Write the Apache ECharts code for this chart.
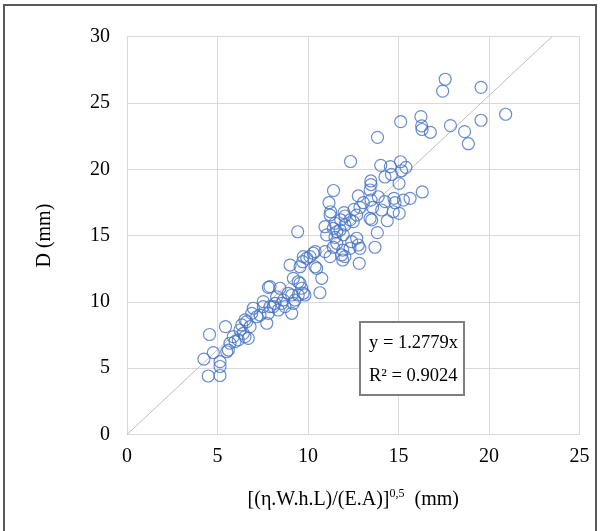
<!DOCTYPE html>
<html>
<head>
<meta charset="utf-8">
<script src="https://cdn.jsdelivr.net/npm/echarts@6/dist/echarts.min.js"></script>
<style>html,body{margin:0;padding:0;background:#fff}#c{width:605px;height:531px}</style>
</head>
<body>
<div id="c"></div>
<script>
// x values: [(η.W.h.L)/(E.A)]^0,5 (mm)
const xVals = [17.58,17.44,19.56,20.92,15.12,16.24,16.28,16.30,16.76,17.87,19.56,18.65,18.86,13.84,12.35,14.02,14.55,15.11,15.41,15.17,
14.25,14.61,13.47,13.48,15.03,11.41,16.31,13.43,12.78,11.16,13.06,13.48,13.88,14.25,14.81,15.27,15.64,11.25,11.99,12.87,
14.07,15.04,13.52,14.38,12.32,11.81,10.94,11.40,11.59,11.03,12.04,12.50,11.49,11.95,12.69,13.83,13.70,12.78,12.87,12.32,
11.92,11.40,10.94,10.29,9.93,11.86,11.92,12.83,11.22,10.39,9.43,9.71,10.76,10.66,9.83,11.22,11.49,11.77,11.59,12.69,
12.41,12.04,10.39,10.11,10.48,9.74,9.56,9.01,9.19,9.46,9.74,8.91,8.45,8.27,9.28,8.73,8.08,9.10,7.81,7.53,
8.64,6.98,6.89,7.72,8.36,7.35,6.52,6.80,6.24,5.44,4.56,5.87,6.52,5.69,4.25,4.77,4.49,5.14,5.14,5.14,
5.51,5.97,6.15,6.43,6.70,7.81,7.90,8.55,9.19,9.65,9.46,5.60,6.61,6.34,7.17,7.53,8.18,7.90,9.56,9.10,
13.43,14.75,12.54,12.04,14.71,13.57];
// y values: D (mm)
const yVals = [26.79,25.90,26.18,24.15,23.59,23.97,23.27,23.00,22.79,23.29,23.70,22.84,21.93,22.41,20.59,20.30,20.20,20.57,20.15,19.89,
19.42,19.61,19.12,18.85,18.94,18.40,18.29,18.44,17.99,17.48,17.48,17.68,17.93,17.56,17.48,17.68,17.81,16.80,16.73,17.13,
16.93,16.68,16.18,16.12,16.18,16.18,15.67,15.55,15.29,15.05,15.80,16.05,14.87,15.05,14.80,15.22,14.12,14.29,14.04,14.04,
13.91,14.12,13.79,13.67,13.29,13.54,13.16,12.91,13.41,12.65,15.29,13.03,11.78,10.69,10.52,16.55,15.93,15.42,14.42,16.55,
14.54,13.41,13.79,13.41,12.53,13.41,12.65,12.78,11.78,11.52,10.65,10.65,11.03,10.39,10.14,9.64,9.64,9.14,11.10,10.02,
10.14,9.52,9.14,8.39,9.39,9.01,8.64,8.13,7.88,8.13,7.54,7.38,7.38,6.88,5.69,6.18,4.41,4.45,5.13,5.49,
6.24,7.00,7.13,7.63,7.25,9.14,9.64,9.89,9.89,11.03,10.52,6.37,8.51,8.26,8.88,9.64,9.89,11.15,11.40,10.52,
16.30,17.81,16.98,16.48,16.80,17.13];
const xTicks = [0,5,10,15,20,25];
const yTicks = [0,5,10,15,20,25,30];
const slope = 1.2779;
const r2 = 0.9024;

const pts = xVals.map((x,i)=>[x,yVals[i]]);
const yMax = yTicks[yTicks.length-1];
const trend = [[0,0],[yMax/slope, yMax]];
const F = 'Liberation Serif, Times New Roman, serif';

const chart = echarts.init(document.getElementById('c'), null, {renderer:'canvas'});
chart.setOption({
  animation:false,
  backgroundColor:'#fff',
  grid:{left:127,right:25.5,top:36.7,bottom:96.5},
  xAxis:{type:'value',min:xTicks[0],max:xTicks[xTicks.length-1],interval:5,
    axisLine:{show:false},axisTick:{show:false},
    splitLine:{lineStyle:{color:'#d9d9d9',width:1}},
    axisLabel:{fontFamily:F,fontSize:20,color:'#000',margin:12},
    name:'{a|[(η.W.h.L)/(E.A)]}{s|0,5}{a|  (mm)}',nameLocation:'middle',nameGap:53,
    nameTextStyle:{rich:{a:{fontFamily:F,fontSize:20,color:'#000',lineHeight:24},
      s:{fontFamily:F,fontSize:12,color:'#000',verticalAlign:'top',lineHeight:14}}}
  },
  yAxis:{type:'value',min:yTicks[0],max:yMax,interval:5,
    axisLine:{show:false},axisTick:{show:false},
    splitLine:{lineStyle:{color:'#d9d9d9',width:1}},
    axisLabel:{fontFamily:F,fontSize:20,color:'#000',margin:17},
    name:'D (mm)',nameLocation:'middle',nameGap:72,nameRotate:90,
    nameTextStyle:{fontFamily:F,fontSize:20,color:'#000'}
  },
  series:[
    {type:'line',data:trend,symbol:'none',silent:true,z:1,
      lineStyle:{color:'#bfbfbf',width:1}},
    {type:'scatter',data:pts,symbol:'circle',symbolSize:12,z:2,
      itemStyle:{color:'rgba(0,0,0,0)',borderColor:'#4472c4',borderWidth:1.2}}
  ],
  graphic:[
    {type:'rect',shape:{x:4,y:5,width:592,height:540},style:{fill:'none',stroke:'#595959',lineWidth:2},z:100},
    {type:'rect',shape:{x:360,y:322,width:104,height:73},style:{fill:'#fff',stroke:'#7f7f7f',lineWidth:2},z:100},
    {type:'text',x:369,y:343,style:{text:'y = '+slope.toFixed(4)+'x',font:'18.5px '+F,fill:'#000',textVerticalAlign:'middle'},z:101},
    {type:'text',x:369,y:376,style:{text:'R² = '+r2.toFixed(4),font:'18.5px '+F,fill:'#000',textVerticalAlign:'middle'},z:101}
  ]
});
</script>
</body>
</html>
